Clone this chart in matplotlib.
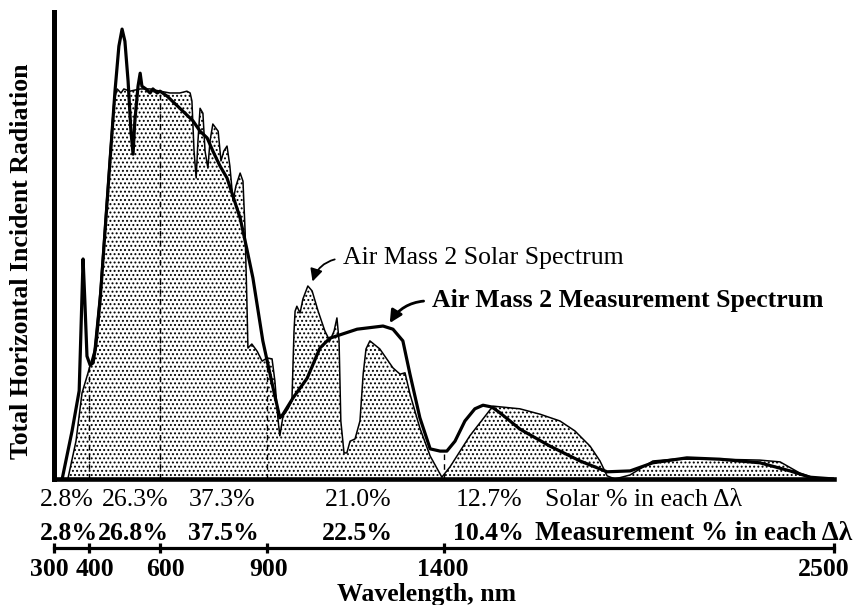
import matplotlib
matplotlib.use('Agg')
import matplotlib.pyplot as plt
import matplotlib.transforms as mtransforms
import numpy as np

plt.rcParams['font.family'] = ['Liberation Serif', 'DejaVu Serif']
plt.rcParams['hatch.color'] = 'black'
plt.rcParams['hatch.linewidth'] = 0.9

# AM2 solar spectrum (thin line, dotted fill), wavelength nm / relative units
solar_wl = [339, 362, 379, 396, 413, 430, 444, 458, 469, 478, 489, 497, 514, 543,
            571, 599, 627, 655, 675, 684, 689, 695, 701, 706, 712, 720, 726, 734,
            740, 748, 763, 771, 779, 788, 796, 805, 813, 825, 833, 839, 844, 847,
            858, 873, 887, 901, 915, 923, 932, 937, 946, 960, 971, 977, 980, 985,
            994, 1002, 1016, 1028, 1045, 1064, 1078, 1090, 1098, 1104, 1109, 1118,
            1126, 1135, 1149, 1163, 1172, 1180, 1191, 1219, 1256, 1276, 1290, 1304,
            1332, 1361, 1394, 1417, 1473, 1538, 1614, 1671, 1727, 1769, 1812, 1840,
            1860, 1882, 1925, 1989, 2046, 2178, 2291, 2348, 2404, 2446, 2500]
solar_val = [0, 8.4, 19.1, 23.6, 28.4, 41.8, 57.3, 72.9, 84, 86.7, 85.8, 86.7, 86.2, 86.7,
             86.7, 86.2, 85.8, 85.8, 86.2, 85.8, 84, 72.9, 66.9, 75.1, 82.4, 81.3, 72.9, 69.1,
             75.1, 78.9, 77.3, 70.7, 72.9, 74, 69.6, 61.8, 65.1, 68, 66.2, 55.1, 39.6, 29.1,
             30, 28.4, 26.2, 26.9, 26.7, 21.8, 13.1, 9.6, 14, 15.6, 17.3, 32.9, 37.3, 38.4,
             36.9, 40, 42.9, 41.8, 37.3, 32.9, 30.7, 32.9, 35.8, 30.7, 12.9, 5.8,
             5.8, 8.4, 8.9, 12.9, 23.3, 28.9, 30.7, 28.9, 24.7, 23.3, 23.6, 18.9,
             11.3, 5.1, 0.4, 2.7, 9.6, 16.2, 15.6, 14.4, 12.9, 10.7, 7.3, 4,
             0.7, 0, 0.9, 4, 4.4, 4.4, 4.2, 3.8, 1.3, 0.2, 0]

# AM2 measurement spectrum (thick line)
meas_wl = [323, 351, 371, 376, 382, 387, 393, 402, 410, 418, 430, 444, 458, 472, 483,
           492, 500, 509, 517, 523, 528, 537, 543, 548, 559, 571, 579, 591, 599, 619,
           655, 692, 712, 732, 748, 768, 788, 825, 844, 861, 889, 918, 937, 946, 974,
           1014, 1050, 1078, 1155, 1228, 1256, 1284, 1304, 1332, 1361, 1389, 1408,
           1431, 1459, 1487, 1510, 1535, 1558, 1614, 1699, 1784, 1860, 1925, 1989,
           2085, 2178, 2291, 2376, 2432, 2500]
meas_val = [0, 10.7, 19.6, 32.9, 48.9, 39.6, 27.3, 25.3, 25.8, 29.6, 39.6, 55.1, 70.7, 86.2, 96.2,
            100, 97.3, 88.4, 77.3, 72.2, 79.6, 87.3, 90.2, 87.3, 86.7, 85.8, 86.7, 85.8, 86.2, 85.1,
            82.4, 79.6, 77.3, 75.8, 72.9, 69.6, 66.9, 58, 51.1, 44.7, 30.7, 20.2, 13.6, 14.4, 18,
            22.4, 29.1, 31.3, 33.3, 34, 33.3, 30.7, 23.3, 13.6, 6.7, 6.2, 6.2,
            8.4, 12.9, 15.6, 16.4, 16, 14.7, 11.1, 7.3, 4, 1.6, 1.8, 3.6,
            4.7, 4.4, 3.6, 1.8, 0.4, 0]

band_edges = [400, 600, 900, 1400]
axis_ticks = [300, 400, 600, 900, 1400, 2500]
solar_pct = ['2.8%', '26.3%', '37.3%', '21.0%', '12.7%']
meas_pct = ['2.8%', '26.8%', '37.5%', '22.5%', '10.4%']

W, H = 861, 605
fig = plt.figure(figsize=(W / 100, H / 100), dpi=100)
ax = fig.add_axes([54 / W, 1 - 479 / H, 780 / W, 467 / H])
ax.set_xlim(300, 2500)
ax.set_ylim(0, 103.8)
for s in ['top', 'right']:
    ax.spines[s].set_visible(False)
ax.spines['left'].set_linewidth(3.6)
ax.spines['bottom'].set_linewidth(3.3)
ax.set_xticks([])
ax.set_yticks([])

ax.fill_between(solar_wl, solar_val, 0, facecolor='white', edgecolor='none', hatch='....', zorder=1)
ax.plot(solar_wl, solar_val, color='black', lw=1.1, zorder=3)
ax.plot(meas_wl, meas_val, color='black', lw=2.3, solid_joinstyle='round', zorder=4)

tops = np.maximum(np.interp(band_edges, solar_wl, solar_val), np.interp(band_edges, meas_wl, meas_val))
ax.vlines(band_edges, 0, tops, colors='black', linestyles=(0, (4, 3)), lw=1.0, zorder=2)

ax.annotate('Air Mass 2 Solar Spectrum', xy=(1028, 43.6), xytext=(1115, 49.1),
            ha='left', va='center', fontsize=18.5,
            arrowprops=dict(arrowstyle='-|>,head_length=0.4,head_width=0.2', color='black',
                            lw=1.3, connectionstyle='arc3,rad=0.35', relpos=(0, 0.5),
                            shrinkA=4, shrinkB=1))
ax.annotate('Air Mass 2 Measurement Spectrum', xy=(1245, 34.4), xytext=(1366, 39.6),
            ha='left', va='center', fontsize=18.5, fontweight='bold',
            arrowprops=dict(arrowstyle='-|>,head_length=0.4,head_width=0.2', color='black',
                            lw=2.0, connectionstyle='arc3,rad=0.3', relpos=(0, 0.5),
                            shrinkA=4, shrinkB=1))

trans = mtransforms.blended_transform_factory(ax.transData, fig.transFigure)
solar_pos = [337, 528, 774, 1157, 1527]
meas_pos = [342, 523, 779, 1157, 1524]
for p, t in zip(solar_pos, solar_pct):
    ax.text(p, 1 - 500 / H, t, transform=trans, ha='center', va='center', fontsize=18.5)
for p, t in zip(meas_pos, meas_pct):
    ax.text(p, 1 - 533 / H, t, transform=trans, ha='center', va='center', fontsize=18.5,
            fontweight='bold')
ax.text(1685, 1 - 500 / H, 'Solar % in each Δλ', transform=trans, ha='left', va='center',
        fontsize=18.5)
ax.text(1657, 1 - 533 / H, 'Measurement % in each Δλ', transform=trans, ha='left', va='center',
        fontsize=19.5, fontweight='bold')

# lower wavelength scale
ax2 = fig.add_axes([54 / W, 1 - 548 / H, 780 / W, 0.0001])
ax2.set_xlim(300, 2500)
for s in ['top', 'right', 'left']:
    ax2.spines[s].set_visible(False)
ax2.spines['bottom'].set_linewidth(2.3)
ax2.set_yticks([])
ax2.set_xticks(axis_ticks)
ax2.tick_params(axis='x', direction='inout', length=7, width=2.3, labelbottom=False)
label_pos = [286, 416, 613, 906, 1397, 2472]
for p, t in zip(label_pos, axis_ticks):
    ax.text(p, 1 - 570 / H, str(t), transform=trans, ha='center', va='center', fontsize=18.5,
            fontweight='bold')
ax.text(1352, 1 - 595 / H, 'Wavelength, nm', transform=trans, ha='center', va='center',
        fontsize=18.5, fontweight='bold')

fig.text(22 / W, 1 - 261 / H, 'Total Horizontal Incident Radiation', rotation=90,
         ha='center', va='center', fontsize=18.5, fontweight='bold')

fig.savefig('out.png', dpi=100)
